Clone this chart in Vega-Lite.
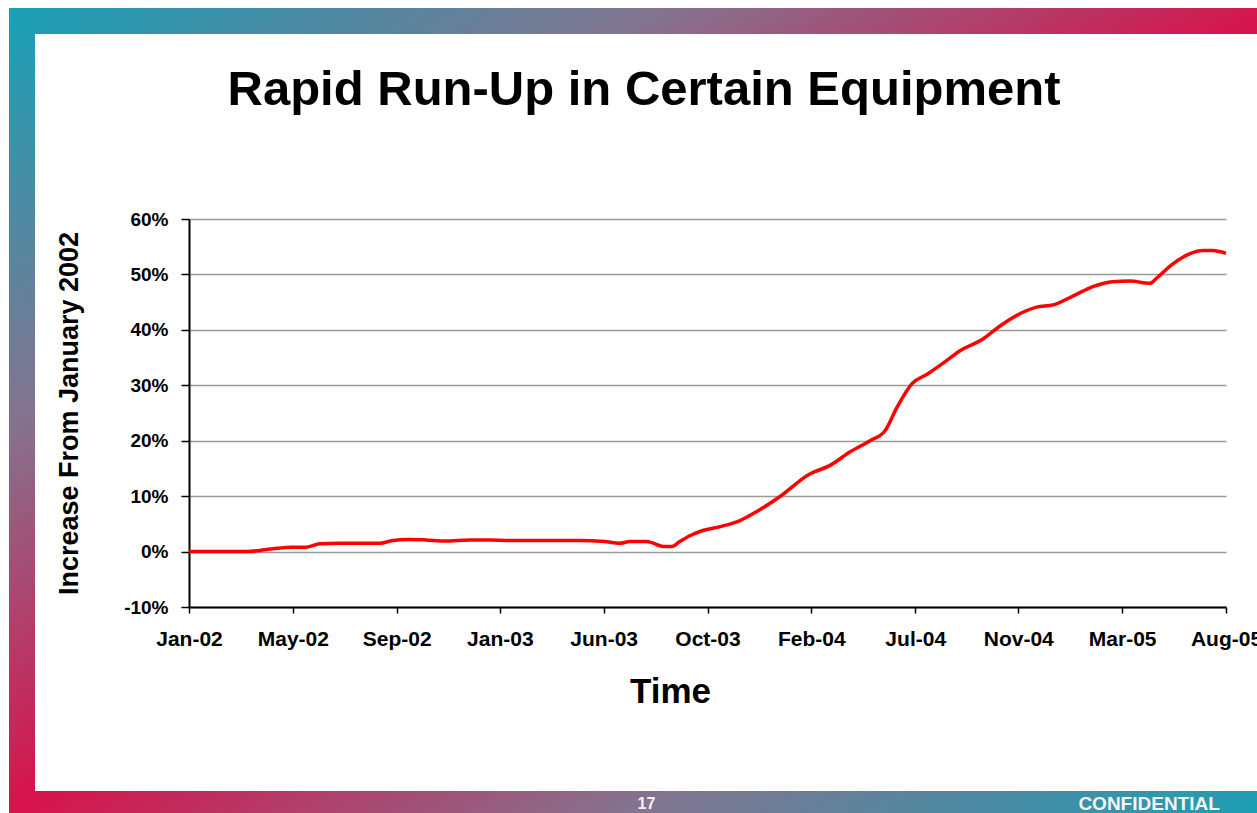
{
  "$schema": "https://vega.github.io/schema/vega-lite/v6.json",
  "width": 1248,
  "height": 783,
  "autosize": {"type": "none"},
  "padding": {"left": 22, "top": 21, "right": -13, "bottom": 9},
  "background": "white",
  "view": {
    "fill": "white",
    "strokeWidth": 26,
    "stroke": {
      "gradient": "linear",
      "x1": 0, "y1": 0, "x2": 1, "y2": 1,
      "stops": [
        {"offset": 0, "color": "#1c9fb5"},
        {"offset": 0.25, "color": "#83748f"},
        {"offset": 0.5, "color": "#d8124b"},
        {"offset": 0.75, "color": "#83748f"},
        {"offset": 1, "color": "#1c9fb5"}
      ]
    }
  },
  "title": {
    "text": "Rapid Run-Up in Certain Equipment",
    "font": "Liberation Sans",
    "fontSize": 49,
    "fontWeight": "bold",
    "color": "#000000",
    "anchor": "middle",
    "frame": "group",
    "baseline": "alphabetic",
    "offset": -133,
    "dx": -2
  },
  "config": {
    "font": "Liberation Sans"
  },
  "layer": [
    {
      "data": {
        "values": [
          {"date": "2002-01-01", "increase": 0},
          {"date": "2002-02-05", "increase": 0},
          {"date": "2002-03-15", "increase": 0},
          {"date": "2002-03-31", "increase": 0.2},
          {"date": "2002-04-17", "increase": 0.5},
          {"date": "2002-05-10", "increase": 0.8},
          {"date": "2002-05-29", "increase": 0.8},
          {"date": "2002-06-15", "increase": 1.4},
          {"date": "2002-07-10", "increase": 1.5},
          {"date": "2002-08-30", "increase": 1.5},
          {"date": "2002-09-15", "increase": 2.0},
          {"date": "2002-10-05", "increase": 2.2},
          {"date": "2002-10-27", "increase": 2.1},
          {"date": "2002-11-20", "increase": 1.9},
          {"date": "2002-12-21", "increase": 2.1},
          {"date": "2003-01-15", "increase": 2.1},
          {"date": "2003-02-10", "increase": 2.0},
          {"date": "2003-03-26", "increase": 2.0},
          {"date": "2003-05-09", "increase": 2.0},
          {"date": "2003-06-09", "increase": 1.8},
          {"date": "2003-06-28", "increase": 1.5},
          {"date": "2003-07-11", "increase": 1.8},
          {"date": "2003-08-01", "increase": 1.8},
          {"date": "2003-08-24", "increase": 0.9},
          {"date": "2003-09-02", "increase": 0.9},
          {"date": "2003-09-12", "increase": 1.8},
          {"date": "2003-09-24", "increase": 2.8},
          {"date": "2003-10-11", "increase": 3.8},
          {"date": "2003-11-02", "increase": 4.5},
          {"date": "2003-11-27", "increase": 5.6},
          {"date": "2003-12-18", "increase": 7.2},
          {"date": "2004-01-16", "increase": 9.9},
          {"date": "2004-02-23", "increase": 14.0},
          {"date": "2004-03-19", "increase": 15.5},
          {"date": "2004-04-14", "increase": 18.0},
          {"date": "2004-05-09", "increase": 20.0},
          {"date": "2004-05-28", "increase": 21.8},
          {"date": "2004-06-12", "increase": 26.0},
          {"date": "2004-07-01", "increase": 30.3},
          {"date": "2004-07-20", "increase": 32.0},
          {"date": "2004-08-14", "increase": 34.5},
          {"date": "2004-08-30", "increase": 36.2},
          {"date": "2004-09-28", "increase": 38.3},
          {"date": "2004-10-20", "increase": 40.7},
          {"date": "2004-11-14", "increase": 42.9},
          {"date": "2004-12-05", "increase": 44.1},
          {"date": "2004-12-26", "increase": 44.5},
          {"date": "2005-01-20", "increase": 46.1},
          {"date": "2005-02-14", "increase": 47.8},
          {"date": "2005-03-11", "increase": 48.7},
          {"date": "2005-04-02", "increase": 48.8},
          {"date": "2005-04-27", "increase": 48.4},
          {"date": "2005-05-06", "increase": 49.4},
          {"date": "2005-05-26", "increase": 51.9},
          {"date": "2005-06-16", "increase": 53.7},
          {"date": "2005-07-03", "increase": 54.3},
          {"date": "2005-07-15", "increase": 54.3},
          {"date": "2005-08-01", "increase": 53.8}
        ]
      },
      "mark": {"type": "line", "color": "#ff0000", "strokeWidth": 3.5, "interpolate": "monotone"},
      "encoding": {
        "x": {
          "field": "date",
          "type": "temporal",
          "scale": {
            "type": "utc",
            "domain": [
              {"year": 2002, "month": 1, "date": 1, "utc": true},
              {"year": 2005, "month": 8, "date": 1, "utc": true}
            ],
            "range": [167, 1204]
          },
          "axis": {
            "orient": "bottom",
            "offset": -197,
            "values": [
              {"year": 2002, "month": 1, "date": 1, "utc": true},
              {"year": 2002, "month": 5, "date": 12, "utc": true},
              {"year": 2002, "month": 9, "date": 20, "utc": true},
              {"year": 2003, "month": 1, "date": 28, "utc": true},
              {"year": 2003, "month": 6, "date": 8, "utc": true},
              {"year": 2003, "month": 10, "date": 17, "utc": true},
              {"year": 2004, "month": 2, "date": 25, "utc": true},
              {"year": 2004, "month": 7, "date": 5, "utc": true},
              {"year": 2004, "month": 11, "date": 12, "utc": true},
              {"year": 2005, "month": 3, "date": 23, "utc": true},
              {"year": 2005, "month": 8, "date": 1, "utc": true}
            ],
            "labelExpr": "utcFormat(datum.value, '%b-%y')",
            "grid": false,
            "labelFlush": false,
            "labelOverlap": false,
            "labelFont": "Liberation Sans",
            "labelFontSize": 21,
            "labelFontWeight": "bold",
            "labelColor": "#000000",
            "labelPadding": 15,
            "tickSize": 6,
            "tickColor": "#000000",
            "tickWidth": 1.5,
            "domainColor": "#000000",
            "domainWidth": 2,
            "title": "Time",
            "titleFont": "Liberation Sans",
            "titleFontSize": 35,
            "titleFontWeight": "bold",
            "titleColor": "#000000",
            "titleX": 648,
            "titleY": 95,
            "titleAlign": "center",
            "titleBaseline": "alphabetic"
          }
        },
        "y": {
          "field": "increase",
          "type": "quantitative",
          "scale": {"domain": [-10, 60], "range": [586, 198], "nice": false, "zero": false},
          "axis": {
            "orient": "left",
            "offset": -167,
            "values": [-10, 0, 10, 20, 30, 40, 50, 60],
            "labelExpr": "datum.value + '%'",
            "grid": true,
            "gridColor": "#9a9a9a",
            "gridWidth": 1.5,
            "labelFont": "Liberation Sans",
            "labelFontSize": 19,
            "labelFontWeight": "bold",
            "labelColor": "#000000",
            "labelPadding": 13,
            "tickSize": 8,
            "tickColor": "#000000",
            "tickWidth": 1.5,
            "domainColor": "#000000",
            "domainWidth": 2,
            "title": "Increase From January 2002",
            "titleFont": "Liberation Sans",
            "titleFontSize": 27,
            "titleFontWeight": "bold",
            "titleColor": "#000000",
            "titleAngle": -90,
            "titleX": -112,
            "titleY": 392,
            "titleAlign": "center",
            "titleBaseline": "alphabetic"
          }
        }
      }
    },
    {
      "data": {"values": [{"footer": "17"}]},
      "mark": {"type": "text", "color": "#f4f4f4", "font": "Liberation Sans", "fontSize": 16, "fontWeight": "bold", "align": "center", "baseline": "alphabetic"},
      "encoding": {
        "text": {"field": "footer"},
        "x": {"datum": {"year": 2003, "month": 8, "date": 1, "utc": true}, "type": "temporal"},
        "y": {"datum": -46.5, "type": "quantitative"}
      }
    },
    {
      "data": {"values": [{"footer": "CONFIDENTIAL"}]},
      "mark": {"type": "text", "color": "#f4f4f4", "font": "Liberation Sans", "fontSize": 19, "fontWeight": "bold", "align": "center", "baseline": "alphabetic"},
      "encoding": {
        "text": {"field": "footer"},
        "x": {"datum": {"year": 2005, "month": 4, "date": 26, "utc": true}, "type": "temporal"},
        "y": {"datum": -46.6, "type": "quantitative"}
      }
    }
  ]
}
